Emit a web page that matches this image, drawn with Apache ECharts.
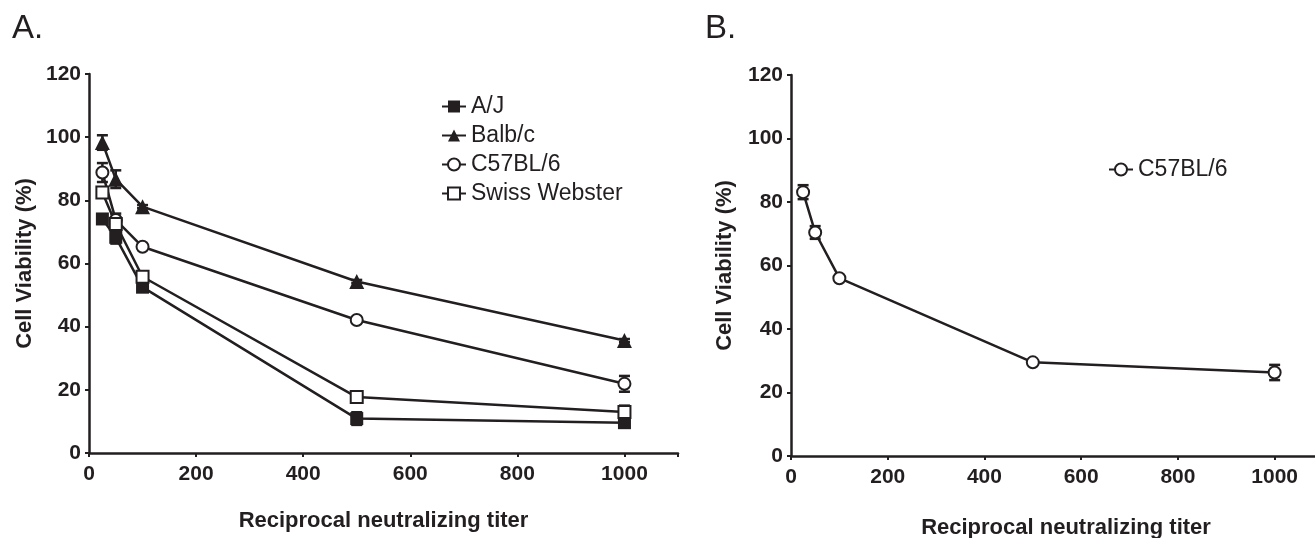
<!DOCTYPE html>
<html>
<head>
<meta charset="utf-8">
<script src="https://cdn.jsdelivr.net/npm/echarts@6/dist/echarts.min.js"></script>
<style>
html,body{margin:0;padding:0;background:#fff;}
#chart{width:1315px;height:538px;}
</style>
</head>
<body>
<div id="chart"></div>
<script>
// ---- data ----
const titers = [25, 50, 100, 500, 1000];
const xTicks = [0, 200, 400, 600, 800, 1000];
const yTicks = [0, 20, 40, 60, 80, 100, 120];

// Panel A
const ajValues    = [74.1, 68.3, 52.5, 10.9, 9.6];
const ajErrors    = [1.5, 2.0, 1.0, 2.0, 1.5];
const balbValues  = [98.3, 86.7, 78.0, 54.3, 35.6];
const balbErrors  = [2.3, 2.8, 0.5, 0.5, 0.5];
const c57Values   = [88.8, 73.8, 65.3, 42.1, 21.9];
const c57Errors   = [3.0, 2.0, 0.5, 0.5, 2.5];
const swissValues = [82.5, 72.5, 55.8, 17.7, 13.0];
const swissErrors = [1.5, 2.0, 0.5, 0.5, 2.0];

// Panel B
const c57BValues  = [83.1, 70.4, 56.0, 29.5, 26.3];
const c57BErrors  = [2.2, 2.0, 0.5, 0.5, 2.4];

// ---- styling ----
const INK = '#231f20';
const FONT = '"Liberation Sans", Arial, sans-serif';

function pts(vals) { return titers.map((x, i) => [x, vals[i]]); }
function errPts(vals, errs) { return titers.map((x, i) => [x, vals[i], errs[i]]); }

function errorSeries(vals, errs, idx) {
  return {
    type: 'custom',
    xAxisIndex: idx, yAxisIndex: idx,
    z: 1,
    silent: true,
    encode: { x: 0, y: 1 },
    data: errPts(vals, errs),
    renderItem: function (params, api) {
      const x = api.value(0), y = api.value(1), e = api.value(2);
      const t = api.coord([x, y + e]);
      const b = api.coord([x, y - e]);
      const hw = 5.5;
      const st = { stroke: INK, lineWidth: 2.5 };
      return {
        type: 'group',
        children: [
          { type: 'line', shape: { x1: t[0], y1: t[1], x2: b[0], y2: b[1] }, style: st },
          { type: 'line', shape: { x1: t[0] - hw, y1: t[1], x2: t[0] + hw, y2: t[1] }, style: st },
          { type: 'line', shape: { x1: b[0] - hw, y1: b[1], x2: b[0] + hw, y2: b[1] }, style: st }
        ]
      };
    }
  };
}

function lineSeries(name, vals, symbol, size, idx) {
  const hollow = symbol.indexOf('empty') === 0;
  return {
    name: name,
    type: 'line',
    xAxisIndex: idx, yAxisIndex: idx,
    z: 3,
    data: pts(vals),
    symbol: symbol,
    symbolSize: size,
    showAllSymbol: true,
    lineStyle: { color: INK, width: 2.5 },
    itemStyle: hollow ? { color: INK, borderColor: INK, borderWidth: 2 } : { color: INK, borderWidth: 0 },
    emphasis: { disabled: true },
    animation: false
  };
}

function xAxisCfg(idx, gap, shift) {
  return {
    type: 'value', gridIndex: idx, min: 0, max: 1100, interval: 200,
    axisLine: { show: true, onZero: false, lineStyle: { color: INK, width: 2.5 } },
    axisTick: { show: true, length: 4, lineStyle: { color: INK, width: 2 } },
    splitLine: { show: false },
    axisLabel: {
      color: INK, fontFamily: FONT, fontWeight: 'bold', fontSize: 21, margin: 11,
      formatter: function (v) { return xTicks.indexOf(v) >= 0 ? String(v) : ''; }
    },
    name: 'Reciprocal neutralizing titer',
    nameLocation: 'middle',
    nameGap: gap,
    nameTextStyle: { color: INK, fontFamily: FONT, fontWeight: 'bold', fontSize: 22, padding: [0, 0, 0, shift] }
  };
}

function yAxisCfg(idx, gap) {
  return {
    type: 'value', gridIndex: idx, min: 0, max: 120, interval: 20,
    axisLine: { show: true, onZero: false, lineStyle: { color: INK, width: 2.5 } },
    axisTick: { show: true, length: 4, lineStyle: { color: INK, width: 2 } },
    splitLine: { show: false },
    axisLabel: {
      color: INK, fontFamily: FONT, fontWeight: 'bold', fontSize: 21, margin: 8,
      formatter: function (v) { return yTicks.indexOf(v) >= 0 ? String(v) : ''; }
    },
    name: 'Cell Viability (%)',
    nameLocation: 'middle',
    nameGap: gap,
    nameTextStyle: { color: INK, fontFamily: FONT, fontWeight: 'bold', fontSize: 22 }
  };
}

const legendText = { color: INK, fontFamily: FONT, fontSize: 23, lineHeight: 23 };

const option = {
  backgroundColor: '#fff',
  animation: false,
  graphic: [
    { type: 'text', left: 12, top: 12, style: { text: 'A.', font: '33px ' + FONT, fill: INK } },
    { type: 'text', left: 705, top: 12, style: { text: 'B.', font: '33px ' + FONT, fill: INK } }
  ],
  grid: [
    { left: 89, right: 637, top: 74, bottom: 85, containLabel: false, outerBoundsMode: 'none' },
    { left: 791, right: -8, top: 75, bottom: 82, containLabel: false, outerBoundsMode: 'none' }
  ],
  xAxis: [xAxisCfg(0, 57, 0), xAxisCfg(1, 61, 18)],
  yAxis: [yAxisCfg(0, 53), yAxisCfg(1, 55)],
  legend: [
    {
      orient: 'vertical', left: 436, top: 90,
      itemWidth: 24, itemHeight: 15, itemGap: 6,
      selectedMode: false,
      textStyle: legendText,
      data: ['A/J', 'Balb/c', 'C57BL/6', 'Swiss Webster']
    },
    {
      orient: 'vertical', left: 1103, top: 153,
      itemWidth: 24, itemHeight: 15, itemGap: 6,
      selectedMode: false,
      textStyle: legendText,
      data: ['C57BL/6']
    }
  ],
  series: [
    errorSeries(ajValues, ajErrors, 0),
    errorSeries(balbValues, balbErrors, 0),
    errorSeries(c57Values, c57Errors, 0),
    errorSeries(swissValues, swissErrors, 0),
    errorSeries(c57BValues, c57BErrors, 1),
    lineSeries('A/J', ajValues, 'rect', 13, 0),
    lineSeries('Balb/c', balbValues, 'triangle', 15, 0),
    lineSeries('C57BL/6', c57Values, 'emptyCircle', 12, 0),
    lineSeries('Swiss Webster', swissValues, 'emptyRect', 12, 0),
    lineSeries('C57BL/6', c57BValues, 'emptyCircle', 12, 1)
  ]
};

const chart = echarts.init(document.getElementById('chart'), null, { renderer: 'canvas' });
chart.setOption(option);
</script>
</body>
</html>
